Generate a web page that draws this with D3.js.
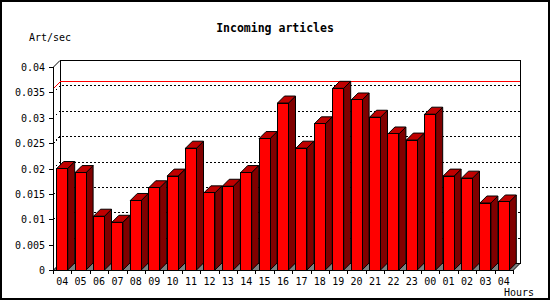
<!DOCTYPE html>
<html>
<head>
<meta charset="utf-8">
<script src="https://d3js.org/d3.v7.min.js"></script>
<style>
  body { margin: 0; background: #fff; }
  text { font-family: "DejaVu Sans Mono", monospace; font-size: 10px; fill: #000; }
  .title { font-weight: bold; font-size: 11.5px; }
</style>
</head>
<body>
<div id="chart"></div>
<script>
// hour labels along the x axis
const hours = ["04","05","06","07","08","09","10","11","12","13","14","15","16","17","18","19","20","21","22","23","00","01","02","03","04"];
// articles per second for each hour
const rates = [0.0200,0.0192,0.0106,0.0094,0.0137,0.0162,0.0185,0.0240,0.0152,0.0165,0.0192,0.0259,0.0329,0.0240,0.0288,0.0358,0.0335,0.0301,0.0268,0.0256,0.0307,0.0185,0.0181,0.0132,0.0134];
// y axis ticks
const yTicks = [0,0.005,0.01,0.015,0.02,0.025,0.03,0.035,0.04];

const W = 550, H = 300;
const plotLeft = 53, plotRight = 513, plotBottom = 270, plotTop = 67;
const dx = 7, dy = 7; // depth of the 3d box

const svg = d3.select("#chart").append("svg")
  .attr("width", W).attr("height", H)
  .attr("shape-rendering", "crispEdges");

// outer frame
svg.append("rect")
  .attr("x", 1).attr("y", 1).attr("width", W - 2).attr("height", H - 2)
  .attr("fill", "#fff").attr("stroke", "#000").attr("stroke-width", 2);

const x = d3.scaleBand().domain(d3.range(hours.length)).range([plotLeft, plotRight]).padding(0);
const y = d3.scaleLinear().domain([0, 0.04]).range([plotBottom, plotTop]);

// back wall
svg.append("rect")
  .attr("x", plotLeft + dx + 0.5).attr("y", y(0.04) - dy + 0.5)
  .attr("width", plotRight - plotLeft).attr("height", y(0) - y(0.04))
  .attr("fill", "#fff").attr("stroke", "#000");

// dotted grid lines on the wall and left side
const grid = svg.append("g");
yTicks.filter(v => v > 0 && v < 0.04).forEach(v => {
  grid.append("path")
    .attr("d", `M${plotLeft},${y(v) + 0.5}L${plotLeft + dx},${y(v) - dy + 0.5}L${plotRight + dx},${y(v) - dy + 0.5}`)
    .attr("fill", "none").attr("stroke", "#000")
    .attr("stroke-dasharray", "2,2");
});
svg.append("path")
  .attr("d", `M${plotLeft},${y(0.04) + 0.5}L${plotLeft + dx},${y(0.04) - dy + 0.5}`)
  .attr("stroke", "#000").attr("shape-rendering", "auto");

// max line
const maxV = d3.max(rates);
svg.append("path")
  .attr("d", `M${plotLeft},${y(maxV) + 0.5}L${plotLeft + dx},${y(maxV) - dy + 0.5}L${plotRight + dx},${y(maxV) - dy + 0.5}`)
  .attr("fill", "none").attr("stroke", "#ff0000");

// floor
svg.append("path")
  .attr("d", `M${plotLeft},${plotBottom + 0.5}L${plotLeft + dx},${plotBottom - dy + 0.5}L${plotRight + dx},${plotBottom - dy + 0.5}L${plotRight},${plotBottom + 0.5}Z`)
  .attr("fill", "#808080").attr("stroke", "#000").attr("shape-rendering", "auto");

// bars
const barOff = 3.7, barW = 11;
const bars = svg.append("g").selectAll("g")
  .data(rates)
  .join("g");

bars.append("path") // side
  .attr("d", (d, i) => {
    const x1 = x(i) + barOff + barW;
    return `M${x1},${y(d)}L${x1 + dx},${y(d) - dy}L${x1 + dx},${plotBottom - dy}L${x1},${plotBottom}Z`;
  })
  .attr("fill", "#800000").attr("stroke", "#000").attr("shape-rendering", "auto");

bars.append("path") // top
  .attr("d", (d, i) => {
    const x0 = x(i) + barOff;
    return `M${x0},${y(d)}L${x0 + dx},${y(d) - dy}L${x0 + barW + dx},${y(d) - dy}L${x0 + barW},${y(d)}Z`;
  })
  .attr("fill", "#c00000").attr("stroke", "#000").attr("shape-rendering", "auto");

bars.append("rect") // front
  .attr("x", (d, i) => x(i) + barOff)
  .attr("y", d => y(d))
  .attr("width", barW)
  .attr("height", d => plotBottom - y(d))
  .attr("fill", "#ff0000").attr("stroke", "#000");

// y axis
svg.append("line")
  .attr("x1", plotLeft + 0.5).attr("x2", plotLeft + 0.5)
  .attr("y1", y(0.04)).attr("y2", plotBottom + 0.5)
  .attr("stroke", "#000");
const yAx = svg.append("g");
yTicks.forEach(v => {
  yAx.append("line")
    .attr("x1", plotLeft - 4).attr("x2", plotLeft)
    .attr("y1", y(v) + 0.5).attr("y2", y(v) + 0.5)
    .attr("stroke", "#000");
  yAx.append("text")
    .attr("x", plotLeft - 8).attr("y", y(v) + 4)
    .attr("text-anchor", "end")
    .text(String(+v.toFixed(3)));
});

// x axis
svg.append("line")
  .attr("x1", plotLeft).attr("x2", plotRight)
  .attr("y1", plotBottom + 0.5).attr("y2", plotBottom + 0.5)
  .attr("stroke", "#000");
const xAx = svg.append("g");
d3.range(hours.length + 1).forEach(i => {
  const xp = Math.round(plotLeft + i * x.bandwidth()) + 0.5;
  xAx.append("line")
    .attr("x1", xp).attr("x2", xp)
    .attr("y1", plotBottom).attr("y2", plotBottom + 4)
    .attr("stroke", "#000");
});
xAx.selectAll("text")
  .data(hours)
  .join("text")
  .attr("x", (d, i) => x(i) + x.bandwidth() / 2)
  .attr("y", 285)
  .attr("text-anchor", "middle")
  .text(d => d);

// titles
svg.append("text").attr("class", "title")
  .attr("x", W / 2).attr("y", 32)
  .attr("text-anchor", "middle")
  .text("Incoming articles");
svg.append("text")
  .attr("x", 29).attr("y", 41)
  .text("Art/sec");
svg.append("text")
  .attr("x", 504).attr("y", 296)
  .text("Hours");
</script>
</body>
</html>
